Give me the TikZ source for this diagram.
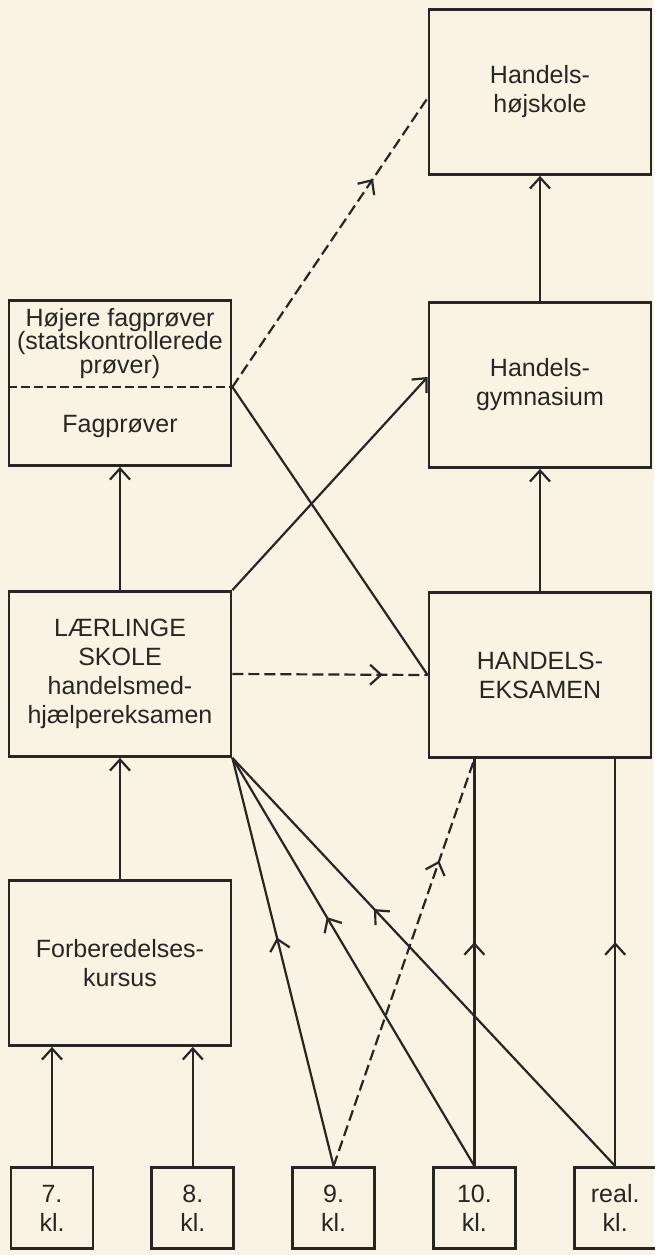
\documentclass[tikz,border=0pt]{standalone}
\usepackage{fontspec}
\setmainfont{Liberation Sans}
\usetikzlibrary{arrows.meta,positioning,calc,decorations.markings}
\definecolor{paper}{RGB}{248,243,226}
\definecolor{ink}{RGB}{40,38,36}

\begin{document}
\begin{tikzpicture}[
  x=1pt, y=-1pt,
  font=\fontsize{25}{29}\selectfont,
  node distance=56pt,
  box/.style={draw=ink, line width=2.8pt, text=ink, align=center, inner sep=0pt,
              minimum width=222pt, minimum height=165pt},
  kl/.style={box, minimum width=82pt, minimum height=81pt},
  txt/.style={text=ink, align=center, inner sep=0pt},
  ln/.style={draw=ink, line width=2.2pt},
  ar/.style={ln, -{Straight Barb[length=11pt,width=20pt]}},
  dsh/.style={dash pattern=on 11pt off 5pt},
  mid/.style={postaction={decorate}, decoration={markings,
      mark=at position #1 with {\arrow{Straight Barb[length=11pt,width=20pt]}}}}
]
\path[use as bounding box, fill=paper] (0,0) rectangle (654,1255);

% right column
\node[box] (hhs) at (540,92) {Handels-\\højskole};
\node[box] (hgym) at (540,385) {Handels-\\gymnasium};
\node[box] (hex) at (540,675) {HANDELS-\\EKSAMEN};

% left column
\node[box] (fag) at (120,383) {};
\coordinate (fagR) at ($(fag.east)+(0,4)$);
\draw[ink, line width=2.2pt, dash pattern=on 9pt off 4pt] (fag.west |- fagR) -- (fagR);
\node[txt, font=\fontsize{25}{23.5}\selectfont] (fagtop)
      at ($(fag.north)!0.5!(fagR -| fag.north)$) {Højere fagprøver\\(statskontrollerede\\prøver)};
\node[txt] (fagbot) at ($(fagR -| fag.south)!0.5!(fag.south)$) {Fagprøver};
\node[box] (laer) at (120,674) {LÆRLINGE\\SKOLE\\handelsmed-\\hjælpereksamen};
\node[box] (forb) at (120,963) {Forberedelses-\\kursus};

% grades
\node[kl] (k7) at (52,1208) {7.\\kl.};
\node[kl, right=of k7] (k8) {8.\\kl.};
\node[kl, right=of k8] (k9) {9.\\kl.};
\node[kl, right=of k9] (k10) {10.\\kl.};
\node[kl, right=of k10] (kreal) {real.\\kl.};

\draw[ar] (hgym) -- (hhs);
\draw[ar] (hex) -- (hgym);
\draw[ar] (laer) -- (fag);
\draw[ar] (forb) -- (laer);
\draw[ar] (k7.north) -- (k7.north |- forb.south);
\draw[ar] (k8.north) -- (k8.north |- forb.south);
\draw[ar] (laer.north east) -- ($(hgym.west)+(0,-8)$);
\draw[ln] (hex.west) -- (fagR);
\draw[ln, dsh, mid=0.72] (fagR) -- ($(hhs.west)+(0,6)$);
\draw[ln, dsh, mid=0.77] (laer.east) -- (hex.west);
\draw[ln, mid=0.56] (k9.north) -- (laer.south east);
\draw[ln, mid=0.61] (k10.north) -- (laer.south east);
\draw[ln, mid=0.63] (kreal.north) -- (laer.south east);
\draw[ln, dsh, mid=0.75] (k9.north) -- (k10.north |- hex.south);
\draw[ln, mid=0.55] (k10.north) -- (k10.north |- hex.south);
\draw[ln, mid=0.55] (kreal.north) -- (kreal.north |- hex.south);
\end{tikzpicture}
\end{document}
